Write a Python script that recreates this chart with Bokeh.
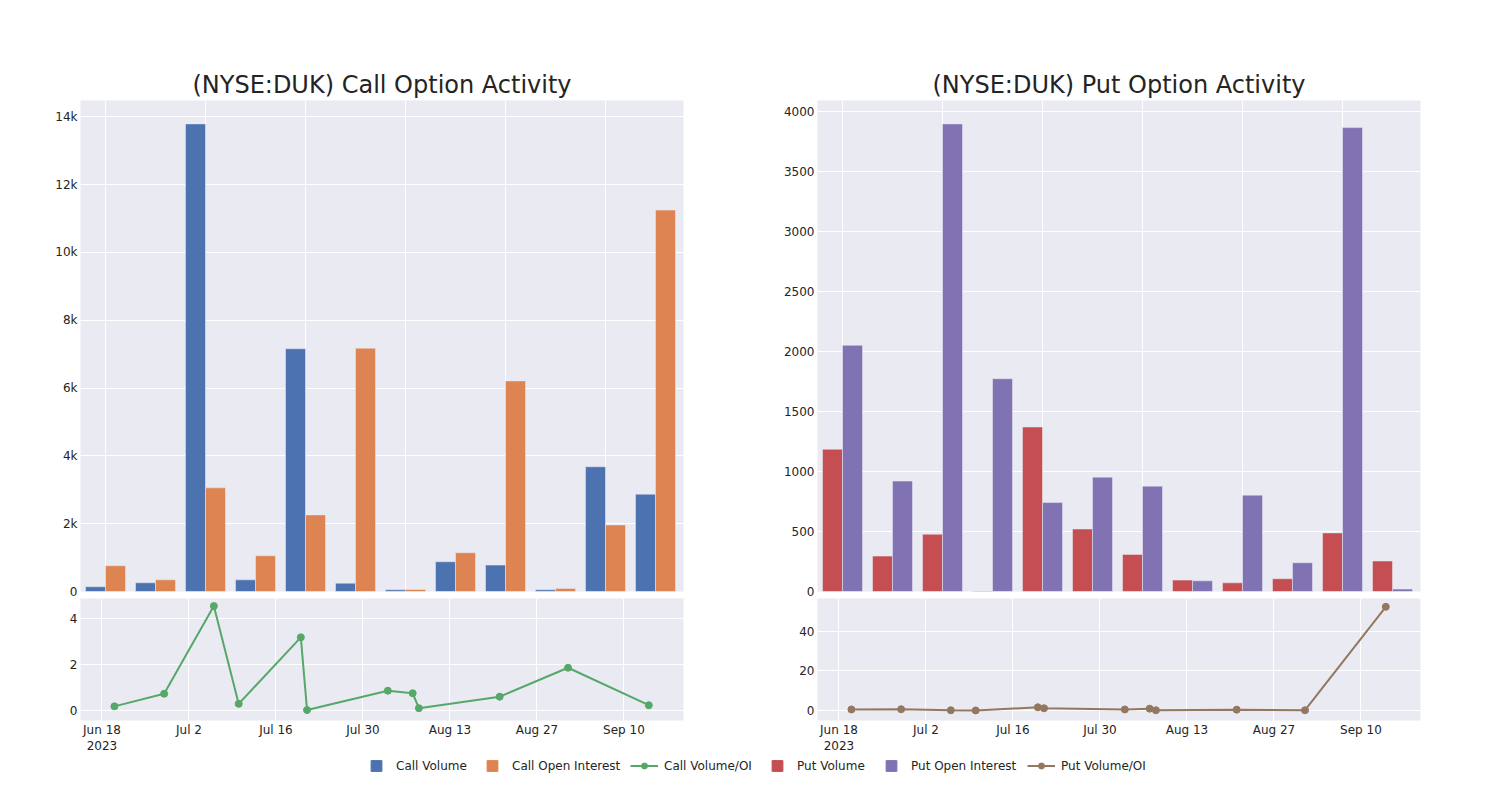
import pandas as pd
from bokeh.plotting import figure
from bokeh.layouts import column, row
from bokeh.models import Range1d, FixedTicker, Legend, LegendItem
from bokeh.embed import file_html
from bokeh.resources import INLINE

# ---------------- data ----------------
dates = ["2023-06-20", "2023-06-28", "2023-07-06", "2023-07-10", "2023-07-20", "2023-07-21",
         "2023-08-03", "2023-08-07", "2023-08-08", "2023-08-21", "2023-09-01", "2023-09-14"]
call_volume = [140, 256, 13790, 345, 7158, 246, 49, 877, 779, 49, 3677, 2869]
call_oi = [759, 345, 3056, 1055, 2258, 7177, 59, 1144, 6211, 89, 1962, 11249]
call_vol_oi = [0.18, 0.73, 4.54, 0.29, 3.18, 0.02, 0.86, 0.75, 0.10, 0.60, 1.86, 0.23]
put_volume = [1185, 295, 477, 4, 1371, 521, 309, 95, 72, 106, 488, 254]
put_oi = [2052, 920, 3897, 1773, 741, 953, 878, 89, 803, 240, 3866, 20]
put_vol_oi = [0.5, 0.6, 0.1, 0.0, 1.6, 1.1, 0.5, 0.9, 0.1, 0.4, 0.1, 52.5]

call_yticks = [0, 2000, 4000, 6000, 8000, 10000, 12000, 14000]
call_ylabels = ["0", "2k", "4k", "6k", "8k", "10k", "12k", "14k"]
put_yticks = [0, 500, 1000, 1500, 2000, 2500, 3000, 3500, 4000]
put_ylabels = ["0", "500", "1000", "1500", "2000", "2500", "3000", "3500", "4000"]
call_ratio_ticks = [0, 2, 4]
put_ratio_ticks = [0, 20, 40]
date_ticks = ["2023-06-18", "2023-07-02", "2023-07-16", "2023-07-30", "2023-08-13", "2023-08-27", "2023-09-10"]
date_labels = ["Jun 18\n2023", "Jul 2", "Jul 16", "Jul 30", "Aug 13", "Aug 27", "Sep 10"]

BLUE, ORANGE, GREEN = "#4C72B0", "#DD8452", "#55A868"
RED, PURPLE, BROWN = "#C44E52", "#8172B3", "#937860"
BG = "#EAEAF2"
TXT = "#242424"
FONT = "DejaVu Sans"
NAN = float("nan")


def style(p):
    p.background_fill_color = BG
    p.border_fill_color = "white"
    p.outline_line_color = None
    p.grid.grid_line_color = "white"
    p.grid.grid_line_width = 1
    for ax in p.axis:
        ax.axis_line_color = None
        ax.major_tick_line_color = None
        ax.minor_tick_line_color = None
        ax.major_tick_out = 0
        ax.major_tick_in = 0
        ax.major_label_text_font = FONT
        ax.major_label_text_font_size = "12px"
        ax.major_label_text_color = TXT
        ax.major_label_standoff = 3


def bar_fig(title, vol, oi, c1, c2, ymax, yticks, ylabels, bl, br):
    idx = list(range(len(dates)))
    p = figure(frame_width=603, frame_height=491, x_range=Range1d(-0.5, 11.56),
               y_range=Range1d(0, ymax), output_backend="svg", toolbar_location=None,
               min_border_left=bl, min_border_right=br, min_border_top=100, min_border_bottom=7,
               title=title)
    p.vbar(x=[i - 0.2 for i in idx], top=vol, width=0.4, fill_color=c1,
           line_color=BG, line_width=0.5)
    p.vbar(x=[i + 0.2 for i in idx], top=oi, width=0.4, fill_color=c2,
           line_color=BG, line_width=0.5)
    style(p)
    p.xaxis.visible = False
    p.xgrid.ticker = FixedTicker(ticks=[0, 2, 4, 6, 8, 10])
    p.yaxis.ticker = FixedTicker(ticks=yticks)
    p.yaxis.major_label_overrides = dict(zip(yticks, ylabels))
    p.title.align = "center"
    p.title.text_font = FONT
    p.title.text_font_size = "24px"
    p.title.text_font_style = "normal"
    p.title.text_color = TXT
    p.title.standoff = 4
    return p


def line_fig(vals, color, y0, y1, yticks, bl, br):
    x = pd.to_datetime(dates)
    start = pd.Timestamp("2023-06-18") - pd.Timedelta(hours=83)
    end = pd.Timestamp("2023-09-10") + pd.Timedelta(hours=230)
    p = figure(frame_width=603, frame_height=122, x_axis_type="datetime",
               x_range=Range1d(start, end), y_range=Range1d(y0, y1),
               output_backend="svg", toolbar_location=None,
               min_border_left=bl, min_border_right=br, min_border_top=0, min_border_bottom=35)
    p.line(x=x, y=vals, line_color=color, line_width=2)
    p.scatter(x=x, y=vals, size=7, fill_color=color, line_color=color)
    style(p)
    tick_ms = [int(pd.Timestamp(d).value // 10**6) for d in date_ticks]
    p.xaxis.ticker = FixedTicker(ticks=tick_ms)
    p.xaxis.major_label_overrides = dict(zip(tick_ms, date_labels))
    p.xaxis.major_label_standoff = 2
    p.yaxis.ticker = FixedTicker(ticks=yticks)
    return p


lt = bar_fig("(NYSE:DUK) Call Option Activity", call_volume, call_oi, BLUE, ORANGE,
             14480, call_yticks, call_ylabels, 80, 10)
lb = line_fig(call_vol_oi, GREEN, -0.435, 4.87, call_ratio_ticks, 80, 10)
rt = bar_fig("(NYSE:DUK) Put Option Activity", put_volume, put_oi, RED, PURPLE,
             4092, put_yticks, put_ylabels, 124, 50)
rb = line_fig(put_vol_oi, BROWN, -5.1, 56.7, put_ratio_ticks, 124, 50)

# ---------------- legend strip ----------------
lf = figure(width=1480, height=30, min_border=0, toolbar_location=None, output_backend="svg",
            x_range=Range1d(0, 1), y_range=Range1d(0, 1),
            x_axis_location=None, y_axis_location=None)
lf.grid.visible = False
lf.outline_line_color = None
lf.background_fill_color = "white"
lf.border_fill_color = "white"

entries = [("Call Volume", BLUE, "bar", 362), ("Call Open Interest", ORANGE, "bar", 478),
           ("Call Volume/OI", GREEN, "line", 630), ("Put Volume", RED, "bar", 763),
           ("Put Open Interest", PURPLE, "bar", 877), ("Put Volume/OI", BROWN, "line", 1027)]
for label, color, kind, xpos in entries:
    # legend proxies: one undefined (NaN) point so nothing is drawn in the strip itself
    if kind == "bar":
        rs = [lf.scatter(x=[NAN], y=[NAN], marker="square", fill_color=color, line_color=color)]
        gh, ypos = 27, 7
    else:
        rs = [lf.line(x=[NAN], y=[NAN], line_color=color, line_width=2),
              lf.scatter(x=[NAN], y=[NAN], marker="circle", fill_color=color, line_color=color)]
        gh, ypos = 15, 13
    leg = Legend(items=[LegendItem(label=label, renderers=rs)], location=(xpos, ypos),
                 orientation="horizontal", glyph_width=28, glyph_height=gh, label_height=gh,
                 label_standoff=6, padding=0, margin=0, border_line_color=None,
                 background_fill_alpha=0, label_text_font=FONT, label_text_font_size="12px",
                 label_text_color=TXT)
    lf.add_layout(leg)

layout = column(row(column(lt, lb), column(rt, rb)), lf)
open("out.html", "w").write(file_html(layout, INLINE))
